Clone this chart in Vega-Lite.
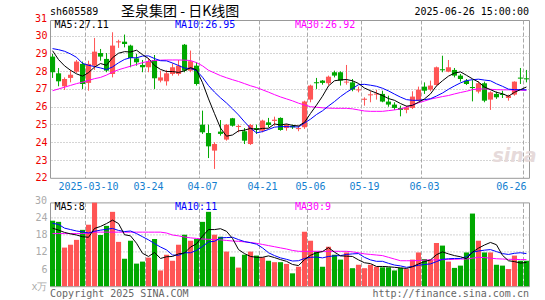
{
  "$schema": "https://vega.github.io/schema/vega-lite/v6.json",
  "autosize": {"type": "pad"},
  "padding": {"left": 30, "top": 4, "right": 0, "bottom": 0},
  "background": "white",
  "config": {
    "view": {"stroke": "#999999", "strokeWidth": 1},
    "text": {"font": "DejaVu Sans Mono", "fontSize": 10},
    "axis": {"labelFont": "DejaVu Sans Mono", "labelFontSize": 10, "title": null}
  },
  "datasets": {
    "k": [
      {"date":"2025-02-28","open":28.82,"high":28.97,"low":27.62,"close":27.94,"ma5":29.15,"ma10":29.27,"ma30":26.9,"vol":22.9,"vma5":20.3,"vma10":22.0,"vma30":18.4},
      {"date":"2025-03-03","open":27.88,"high":28.18,"low":27.15,"close":27.43,"ma5":28.65,"ma10":29.21,"ma30":27.0,"vol":22.5,"vma5":19.6,"vma10":21.6,"vma30":18.4},
      {"date":"2025-03-04","open":27.15,"high":27.65,"low":26.94,"close":27.56,"ma5":28.3,"ma10":29.12,"ma30":27.1,"vol":13.5,"vma5":18.8,"vma10":20.3,"vma30":18.4},
      {"date":"2025-03-05","open":27.62,"high":28.07,"low":27.37,"close":27.80,"ma5":28.05,"ma10":28.97,"ma30":27.2,"vol":14.5,"vma5":18.3,"vma10":19.8,"vma30":18.4},
      {"date":"2025-03-06","open":27.97,"high":28.63,"low":27.90,"close":28.54,"ma5":27.85,"ma10":28.78,"ma30":27.3,"vol":16.2,"vma5":17.9,"vma10":19.3,"vma30":18.4},
      {"date":"2025-03-07","open":28.41,"high":28.54,"low":27.00,"close":27.28,"ma5":27.72,"ma10":28.44,"ma30":27.38,"vol":19.7,"vma5":17.3,"vma10":19.0,"vma30":18.4},
      {"date":"2025-03-10","open":27.34,"high":28.59,"low":26.90,"close":28.41,"ma5":27.92,"ma10":28.33,"ma30":27.48,"vol":21.5,"vma5":17.1,"vma10":18.6,"vma30":18.6},
      {"date":"2025-03-11","open":28.31,"high":29.87,"low":28.07,"close":29.10,"ma5":28.23,"ma10":28.26,"ma30":27.58,"vol":29.2,"vma5":20.2,"vma10":19.2,"vma30":18.9},
      {"date":"2025-03-12","open":29.02,"high":29.25,"low":28.59,"close":28.82,"ma5":28.43,"ma10":28.18,"ma30":27.65,"vol":17.9,"vma5":20.9,"vma10":19.6,"vma30":18.9},
      {"date":"2025-03-13","open":28.69,"high":29.02,"low":27.94,"close":28.03,"ma5":28.33,"ma10":28.09,"ma30":27.78,"vol":21.1,"vma5":21.9,"vma10":19.9,"vma30":18.9},
      {"date":"2025-03-14","open":27.84,"high":30.19,"low":27.65,"close":29.44,"ma5":28.76,"ma10":28.24,"ma30":27.95,"vol":26.0,"vma5":23.1,"vma10":20.2,"vma30":18.9},
      {"date":"2025-03-17","open":29.62,"high":29.77,"low":29.31,"close":29.68,"ma5":29.01,"ma10":28.47,"ma30":28.08,"vol":15.5,"vma5":21.9,"vma10":19.5,"vma30":18.9},
      {"date":"2025-03-18","open":29.66,"high":30.06,"low":29.34,"close":29.53,"ma5":29.10,"ma10":28.66,"ma30":28.18,"vol":9.6,"vma5":18.0,"vma10":19.1,"vma30":18.9},
      {"date":"2025-03-19","open":29.44,"high":29.49,"low":28.22,"close":28.74,"ma5":29.08,"ma10":28.76,"ma30":28.28,"vol":15.9,"vma5":17.6,"vma10":19.3,"vma30":18.9},
      {"date":"2025-03-20","open":28.72,"high":28.97,"low":28.31,"close":28.50,"ma5":29.18,"ma10":28.75,"ma30":28.38,"vol":7.9,"vma5":15.0,"vma10":18.4,"vma30":18.9},
      {"date":"2025-03-21","open":28.35,"high":28.63,"low":27.94,"close":28.22,"ma5":28.93,"ma10":28.85,"ma30":28.48,"vol":8.6,"vma5":11.5,"vma10":17.3,"vma30":18.9},
      {"date":"2025-03-24","open":28.22,"high":28.74,"low":27.94,"close":28.54,"ma5":28.71,"ma10":28.86,"ma30":28.56,"vol":10.0,"vma5":10.4,"vma10":16.2,"vma30":18.9},
      {"date":"2025-03-25","open":28.63,"high":28.91,"low":27.00,"close":27.60,"ma5":28.32,"ma10":28.71,"ma30":28.6,"vol":16.5,"vma5":11.8,"vma10":14.9,"vma30":18.9},
      {"date":"2025-03-26","open":27.47,"high":28.03,"low":27.37,"close":27.65,"ma5":28.10,"ma10":28.59,"ma30":28.62,"vol":5.5,"vma5":9.7,"vma10":13.7,"vma30":18.9},
      {"date":"2025-03-27","open":27.43,"high":28.07,"low":27.19,"close":27.88,"ma5":27.98,"ma10":28.58,"ma30":28.63,"vol":11.0,"vma5":10.3,"vma10":12.7,"vma30":18.6},
      {"date":"2025-03-28","open":27.84,"high":28.44,"low":27.75,"close":28.22,"ma5":27.98,"ma10":28.46,"ma30":28.63,"vol":8.9,"vma5":10.4,"vma10":10.9,"vma30":17.9},
      {"date":"2025-03-31","open":27.84,"high":28.63,"low":27.75,"close":28.31,"ma5":27.93,"ma10":28.32,"ma30":28.63,"vol":14.5,"vma5":11.3,"vma10":10.8,"vma30":17.6},
      {"date":"2025-04-01","open":29.49,"high":29.53,"low":27.94,"close":28.03,"ma5":28.02,"ma10":28.17,"ma30":28.62,"vol":18.0,"vma5":11.6,"vma10":11.7,"vma30":17.2},
      {"date":"2025-04-02","open":28.03,"high":29.16,"low":27.94,"close":28.56,"ma5":28.20,"ma10":28.15,"ma30":28.6,"vol":15.9,"vma5":13.7,"vma10":11.7,"vma30":16.9},
      {"date":"2025-04-03","open":28.31,"high":28.50,"low":27.19,"close":27.28,"ma5":28.08,"ma10":28.03,"ma30":28.48,"vol":16.5,"vma5":14.8,"vma10":12.5,"vma30":16.7},
      {"date":"2025-04-07","open":24.99,"high":25.78,"low":24.47,"close":24.56,"ma5":27.35,"ma10":27.66,"ma30":28.3,"vol":22.5,"vma5":17.5,"vma10":13.9,"vma30":16.5},
      {"date":"2025-04-08","open":24.52,"high":24.99,"low":23.11,"close":23.77,"ma5":26.44,"ma10":27.19,"ma30":28.05,"vol":26.0,"vma5":19.8,"vma10":15.5,"vma30":16.4},
      {"date":"2025-04-09","open":23.53,"high":24.00,"low":22.50,"close":23.90,"ma5":25.61,"ma10":26.82,"ma30":27.9,"vol":18.0,"vma5":19.8,"vma10":15.7,"vma30":16.3},
      {"date":"2025-04-10","open":24.60,"high":25.25,"low":24.37,"close":24.47,"ma5":24.80,"ma10":26.50,"ma30":27.75,"vol":17.3,"vma5":20.1,"vma10":16.9,"vma30":16.2},
      {"date":"2025-04-11","open":24.15,"high":25.03,"low":24.09,"close":24.99,"ma5":24.34,"ma10":26.21,"ma30":27.63,"vol":12.1,"vma5":19.2,"vma10":17.0,"vma30":16.0},
      {"date":"2025-04-14","open":25.35,"high":25.37,"low":24.88,"close":24.93,"ma5":24.41,"ma10":25.88,"ma30":27.52,"vol":10.3,"vma5":16.7,"vma10":17.1,"vma30":15.8},
      {"date":"2025-04-15","open":24.86,"high":24.99,"low":24.56,"close":24.92,"ma5":24.64,"ma10":25.54,"ma30":27.42,"vol":6.5,"vma5":12.8,"vma10":16.3,"vma30":15.7},
      {"date":"2025-04-16","open":24.62,"high":24.80,"low":23.90,"close":24.09,"ma5":24.68,"ma10":25.15,"ma30":27.3,"vol":11.0,"vma5":11.4,"vma10":15.6,"vma30":15.5},
      {"date":"2025-04-17","open":23.90,"high":25.03,"low":23.85,"close":24.97,"ma5":24.78,"ma10":24.79,"ma30":27.18,"vol":12.1,"vma5":10.4,"vma10":15.2,"vma30":15.3},
      {"date":"2025-04-18","open":24.80,"high":24.99,"low":24.47,"close":24.71,"ma5":24.72,"ma10":24.53,"ma30":27.08,"vol":10.7,"vma5":10.1,"vma10":14.7,"vma30":15.0},
      {"date":"2025-04-21","open":24.65,"high":25.27,"low":24.56,"close":25.22,"ma5":24.78,"ma10":24.60,"ma30":26.95,"vol":10.1,"vma5":10.1,"vma10":13.4,"vma30":14.6},
      {"date":"2025-04-22","open":25.12,"high":25.37,"low":24.84,"close":24.97,"ma5":24.79,"ma10":24.72,"ma30":26.82,"vol":8.9,"vma5":10.6,"vma10":11.7,"vma30":14.2},
      {"date":"2025-04-23","open":25.20,"high":25.44,"low":24.93,"close":25.27,"ma5":25.03,"ma10":24.85,"ma30":26.68,"vol":8.4,"vma5":10.0,"vma10":10.7,"vma30":13.8},
      {"date":"2025-04-24","open":25.37,"high":25.40,"low":24.65,"close":24.69,"ma5":24.97,"ma10":24.88,"ma30":26.55,"vol":8.4,"vma5":9.3,"vma10":9.9,"vma30":13.4},
      {"date":"2025-04-25","open":24.80,"high":25.03,"low":24.65,"close":24.99,"ma5":25.03,"ma10":24.88,"ma30":26.44,"vol":7.8,"vma5":8.7,"vma10":9.4,"vma30":13.0},
      {"date":"2025-04-28","open":24.92,"high":24.99,"low":24.75,"close":24.84,"ma5":24.95,"ma10":24.87,"ma30":26.33,"vol":4.5,"vma5":7.6,"vma10":8.8,"vma30":12.5},
      {"date":"2025-04-29","open":24.74,"high":24.93,"low":24.62,"close":24.80,"ma5":24.92,"ma10":24.86,"ma30":26.2,"vol":6.8,"vma5":7.2,"vma10":8.9,"vma30":12.2},
      {"date":"2025-04-30","open":24.84,"high":26.34,"low":24.75,"close":26.29,"ma5":25.12,"ma10":25.08,"ma30":26.1,"vol":19.0,"vma5":9.3,"vma10":9.7,"vma30":12.2},
      {"date":"2025-05-06","open":26.40,"high":27.24,"low":26.25,"close":27.19,"ma5":25.62,"ma10":25.30,"ma30":26.0,"vol":15.9,"vma5":10.8,"vma10":10.1,"vma30":12.2},
      {"date":"2025-05-07","open":27.38,"high":27.62,"low":27.00,"close":27.32,"ma5":26.09,"ma10":25.56,"ma30":25.97,"vol":12.1,"vma5":11.7,"vma10":10.2,"vma30":12.2},
      {"date":"2025-05-08","open":27.47,"high":27.50,"low":27.24,"close":27.34,"ma5":26.59,"ma10":25.77,"ma30":25.94,"vol":6.8,"vma5":12.1,"vma10":9.9,"vma30":12.2},
      {"date":"2025-05-09","open":27.32,"high":27.75,"low":27.19,"close":27.69,"ma5":27.17,"ma10":26.04,"ma30":25.92,"vol":13.8,"vma5":13.5,"vma10":10.4,"vma30":12.2},
      {"date":"2025-05-12","open":27.94,"high":28.03,"low":27.65,"close":27.75,"ma5":27.46,"ma10":26.29,"ma30":25.91,"vol":11.0,"vma5":11.9,"vma10":10.6,"vma30":12.2},
      {"date":"2025-05-13","open":27.94,"high":27.99,"low":27.19,"close":27.47,"ma5":27.51,"ma10":26.57,"ma30":25.91,"vol":9.3,"vma5":10.6,"vma10":10.7,"vma30":12.2},
      {"date":"2025-05-14","open":27.36,"high":28.35,"low":27.24,"close":27.41,"ma5":27.53,"ma10":26.81,"ma30":25.91,"vol":11.8,"vma5":10.5,"vma10":11.1,"vma30":12.2},
      {"date":"2025-05-15","open":27.37,"high":27.56,"low":26.87,"close":26.96,"ma5":27.46,"ma10":27.02,"ma30":25.88,"vol":6.3,"vma5":10.4,"vma10":11.3,"vma30":12.0},
      {"date":"2025-05-16","open":26.92,"high":27.13,"low":26.81,"close":26.98,"ma5":27.31,"ma10":27.24,"ma30":25.82,"vol":7.5,"vma5":9.2,"vma10":11.4,"vma30":11.7},
      {"date":"2025-05-19","open":26.39,"high":26.53,"low":26.06,"close":26.45,"ma5":27.05,"ma10":27.26,"ma30":25.76,"vol":6.3,"vma5":8.2,"vma10":10.1,"vma30":11.3},
      {"date":"2025-05-20","open":26.64,"high":26.87,"low":26.25,"close":26.70,"ma5":26.90,"ma10":27.21,"ma30":25.74,"vol":7.5,"vma5":7.9,"vma10":9.2,"vma30":11.1},
      {"date":"2025-05-21","open":26.68,"high":26.94,"low":26.40,"close":26.74,"ma5":26.77,"ma10":27.15,"ma30":25.74,"vol":6.8,"vma5":6.9,"vma10":8.7,"vma30":10.9},
      {"date":"2025-05-22","open":26.72,"high":26.90,"low":26.25,"close":26.29,"ma5":26.63,"ma10":27.04,"ma30":25.74,"vol":6.6,"vma5":6.9,"vma10":8.7,"vma30":10.7},
      {"date":"2025-05-23","open":26.29,"high":26.62,"low":26.00,"close":26.12,"ma5":26.46,"ma10":26.89,"ma30":25.78,"vol":6.6,"vma5":6.8,"vma10":8.0,"vma30":10.1},
      {"date":"2025-05-26","open":26.12,"high":26.25,"low":25.82,"close":25.93,"ma5":26.36,"ma10":26.71,"ma30":25.82,"vol":5.5,"vma5":6.6,"vma10":7.4,"vma30":9.5},
      {"date":"2025-05-27","open":25.93,"high":26.06,"low":25.46,"close":25.82,"ma5":26.18,"ma10":26.54,"ma30":25.87,"vol":6.4,"vma5":6.4,"vma10":7.1,"vma30":8.9},
      {"date":"2025-05-28","open":25.82,"high":26.06,"low":25.63,"close":25.97,"ma5":26.03,"ma10":26.40,"ma30":25.97,"vol":6.0,"vma5":6.2,"vma10":6.6,"vma30":8.9},
      {"date":"2025-05-29","open":25.93,"high":26.87,"low":25.87,"close":26.57,"ma5":26.08,"ma10":26.36,"ma30":26.1,"vol":9.3,"vma5":6.8,"vma10":6.9,"vma30":8.9},
      {"date":"2025-05-30","open":26.34,"high":27.13,"low":26.30,"close":26.96,"ma5":26.25,"ma10":26.36,"ma30":26.22,"vol":11.8,"vma5":7.8,"vma10":7.3,"vma30":9.0},
      {"date":"2025-06-03","open":27.13,"high":27.37,"low":26.72,"close":26.90,"ma5":26.44,"ma10":26.40,"ma30":26.32,"vol":9.5,"vma5":8.6,"vma10":7.6,"vma30":9.1},
      {"date":"2025-06-04","open":26.96,"high":27.47,"low":26.87,"close":27.19,"ma5":26.72,"ma10":26.45,"ma30":26.43,"vol":9.2,"vma5":9.2,"vma10":7.8,"vma30":9.2},
      {"date":"2025-06-05","open":27.22,"high":28.26,"low":27.17,"close":28.22,"ma5":27.17,"ma10":26.60,"ma30":26.5,"vol":15.1,"vma5":11.0,"vma10":8.6,"vma30":9.2},
      {"date":"2025-06-06","open":28.11,"high":28.87,"low":27.94,"close":28.05,"ma5":27.46,"ma10":26.77,"ma30":26.57,"vol":14.2,"vma5":12.0,"vma10":9.4,"vma30":9.3},
      {"date":"2025-06-09","open":27.97,"high":28.63,"low":27.94,"close":28.22,"ma5":27.72,"ma10":26.98,"ma30":26.63,"vol":8.6,"vma5":11.3,"vma10":9.6,"vma30":9.3},
      {"date":"2025-06-10","open":28.07,"high":28.18,"low":27.65,"close":27.75,"ma5":27.89,"ma10":27.17,"ma30":26.72,"vol":6.4,"vma5":10.7,"vma10":9.7,"vma30":9.4},
      {"date":"2025-06-11","open":27.75,"high":27.84,"low":27.41,"close":27.56,"ma5":27.96,"ma10":27.34,"ma30":26.8,"vol":7.2,"vma5":10.3,"vma10":9.7,"vma30":9.5},
      {"date":"2025-06-12","open":27.47,"high":27.56,"low":27.22,"close":27.28,"ma5":27.77,"ma10":27.47,"ma30":26.87,"vol":11.8,"vma5":9.6,"vma10":10.3,"vma30":9.5},
      {"date":"2025-06-13","open":27.11,"high":27.50,"low":26.30,"close":27.05,"ma5":27.57,"ma10":27.52,"ma30":26.96,"vol":25.4,"vma5":11.9,"vma10":11.9,"vma30":9.8},
      {"date":"2025-06-16","open":26.85,"high":27.43,"low":26.75,"close":27.32,"ma5":27.39,"ma10":27.55,"ma30":27.0,"vol":15.9,"vma5":13.3,"vma10":12.3,"vma30":10.1},
      {"date":"2025-06-17","open":27.32,"high":27.41,"low":26.25,"close":26.34,"ma5":27.11,"ma10":27.50,"ma30":27.0,"vol":11.8,"vma5":14.4,"vma10":12.6,"vma30":10.0},
      {"date":"2025-06-18","open":26.40,"high":26.87,"low":25.82,"close":26.81,"ma5":26.96,"ma10":27.46,"ma30":26.98,"vol":11.8,"vma5":15.3,"vma10":12.8,"vma30":9.8},
      {"date":"2025-06-19","open":26.72,"high":26.85,"low":26.44,"close":26.53,"ma5":26.81,"ma10":27.29,"ma30":26.96,"vol":7.5,"vma5":14.5,"vma10":12.1,"vma30":9.6},
      {"date":"2025-06-20","open":26.72,"high":26.90,"low":26.49,"close":26.66,"ma5":26.73,"ma10":27.15,"ma30":26.95,"vol":7.2,"vma5":10.8,"vma10":11.4,"vma30":9.5},
      {"date":"2025-06-23","open":26.49,"high":26.68,"low":26.34,"close":26.62,"ma5":26.59,"ma10":26.99,"ma30":26.95,"vol":6.0,"vma5":8.9,"vma10":11.1,"vma30":9.4},
      {"date":"2025-06-24","open":26.68,"high":27.43,"low":26.62,"close":27.41,"ma5":26.81,"ma10":26.96,"ma30":26.94,"vol":10.7,"vma5":8.6,"vma10":11.5,"vma30":9.4},
      {"date":"2025-06-25","open":27.64,"high":28.18,"low":27.28,"close":27.58,"ma5":26.96,"ma10":26.96,"ma30":26.93,"vol":8.9,"vma5":8.1,"vma10":11.7,"vma30":9.3},
      {"date":"2025-06-26","open":27.60,"high":28.07,"low":27.37,"close":27.54,"ma5":27.11,"ma10":26.95,"ma30":26.92,"vol":8.9,"vma5":8.3,"vma10":11.4,"vma30":9.3}
    ]
  },
  "spacing": 24.4,
  "bounds": "flush",
  "vconcat": [
    {
      "width": 479,
      "height": 157.8,
      "data": {"name": "k"},
      "encoding": {
        "x": {
          "field": "date", "type": "ordinal",
          "scale": {"paddingInner": 0.15, "paddingOuter": 0},
          "axis": {
            "values": ["2025-03-10","2025-03-24","2025-04-07","2025-04-21","2025-05-06","2025-05-19","2025-06-03","2025-06-26"],
            "bandPosition": 0, "grid": true, "gridColor": "#aaaaaa", "gridDash": [4, 2], "gridWidth": 1,
            "ticks": false, "domain": false, "labelAngle": 0, "labelColor": "#1480d0",
            "labelPadding": 4, "labelFlush": 8,
            "labelExpr": "datum.value == '2025-03-10' ? datum.label : substring(datum.label, 5)"
          }
        }
      },
      "layer": [
        {
          "data": {"values": [{}]},
          "mark": {"type": "text", "align": "left", "baseline": "middle", "font": "DejaVu Sans", "fontStyle": "italic", "fontWeight": "bold", "fontSize": 19, "color": "#e6dada", "dx": -34},
          "encoding": {"x": {"datum": "2025-06-26", "type": "ordinal"}, "y": {"datum": 23.2, "type": "quantitative", "axis": null}, "text": {"value": "sina"}}
        },
        {
          "mark": {"type": "rule", "strokeWidth": 1},
          "encoding": {
            "y": {"field": "low", "type": "quantitative",
                  "scale": {"domain": [22, 30.88], "nice": false, "zero": false},
                  "axis": {"orient": "left", "values": [22,23,24,25,26,27,28,29,30], "grid": false, "ticks": false, "domain": false, "labelColor": "#ee0000", "labelPadding": 3}},
            "y2": {"field": "high"},
            "color": {"condition": {"test": "datum.close >= datum.open", "value": "#ff5555"}, "value": "#00a800"}
          }
        },
        {
          "mark": {"type": "bar"},
          "encoding": {
            "y": {"field": "open", "type": "quantitative",
                  "axis": {"orient": "right", "values": [23,24,25,26,27,28,29,30], "grid": true, "gridColor": "#aaaaaa", "gridDash": [1, 2], "labels": false, "ticks": false, "domain": false}},
            "y2": {"field": "close"},
            "color": {"condition": {"test": "datum.close >= datum.open", "value": "#ff5555"}, "value": "#00a800"}
          }
        },
        {
          "mark": {"type": "line", "strokeWidth": 1, "color": "#ff00ff"},
          "encoding": {"y": {"field": "ma30", "type": "quantitative", "axis": null}}
        },
        {
          "mark": {"type": "line", "strokeWidth": 1, "color": "#0000ff"},
          "encoding": {"y": {"field": "ma10", "type": "quantitative", "axis": null}}
        },
        {
          "mark": {"type": "line", "strokeWidth": 1, "color": "#000000"},
          "encoding": {"y": {"field": "ma5", "type": "quantitative", "axis": null}}
        },
        {
          "data": {"values": [{}]},
          "mark": {"type": "text", "align": "right", "baseline": "middle", "dx": -5.5, "dy": 1.5, "color": "#ee0000"},
          "encoding": {"x": {"datum": "2025-02-28", "type": "ordinal"}, "y": {"datum": 31, "type": "quantitative", "axis": null}, "text": {"value": "31"}}
        },
        {
          "data": {"values": [{}]},
          "mark": {"type": "text", "align": "left", "baseline": "top", "dx": 2, "color": "#000000"},
          "encoding": {"x": {"datum": "2025-02-28", "type": "ordinal"}, "y": {"datum": 30.88, "type": "quantitative", "axis": null}, "text": {"value": "MA5:27.11"}}
        },
        {
          "data": {"values": [{}]},
          "mark": {"type": "text", "align": "left", "baseline": "top", "dx": 2.5, "color": "#0000ff"},
          "encoding": {"x": {"datum": "2025-03-28", "type": "ordinal"}, "y": {"datum": 30.88, "type": "quantitative", "axis": null}, "text": {"value": "MA10:26.95"}}
        },
        {
          "data": {"values": [{}]},
          "mark": {"type": "text", "align": "left", "baseline": "top", "dx": 2.5, "color": "#ff00ff"},
          "encoding": {"x": {"datum": "2025-04-28", "type": "ordinal"}, "y": {"datum": 30.88, "type": "quantitative", "axis": null}, "text": {"value": "MA30:26.92"}}
        },
        {
          "data": {"values": [{}]},
          "mark": {"type": "text", "align": "left", "baseline": "middle", "dx": -2.5, "color": "#000000"},
          "encoding": {"x": {"datum": "2025-02-28", "type": "ordinal"}, "y": {"datum": 31.35, "type": "quantitative", "axis": null}, "text": {"value": "sh605589"}}
        },
        {
          "data": {"values": [{}]},
          "mark": {"type": "text", "align": "left", "baseline": "middle", "dx": 2.5, "font": "Noto Sans CJK SC", "fontSize": 14, "color": "#000000"},
          "encoding": {"x": {"datum": "2025-03-17", "type": "ordinal"}, "y": {"datum": 31.35, "type": "quantitative", "axis": null}, "text": {"value": "圣泉集团 - 日K线图"}}
        },
        {
          "data": {"values": [{}]},
          "mark": {"type": "text", "align": "right", "baseline": "middle", "dx": 2.5, "color": "#000000"},
          "encoding": {"x": {"datum": "2025-06-26", "type": "ordinal"}, "y": {"datum": 31.35, "type": "quantitative", "axis": null}, "text": {"value": "2025-06-26 15:00:00"}}
        }
      ],
      "resolve": {"axis": {"y": "independent"}}
    },
    {
      "width": 479,
      "height": 83.8,
      "data": {"name": "k"},
      "encoding": {
        "x": {
          "field": "date", "type": "ordinal",
          "scale": {"paddingInner": 0.15, "paddingOuter": 0},
          "axis": {
            "values": ["2025-03-10","2025-03-24","2025-04-07","2025-04-21","2025-05-06","2025-05-19","2025-06-03","2025-06-26"],
            "bandPosition": 0, "grid": true, "gridColor": "#aaaaaa", "gridDash": [4, 2], "gridWidth": 1,
            "ticks": false, "domain": false, "labels": false
          }
        }
      },
      "layer": [
        {
          "mark": {"type": "bar"},
          "encoding": {
            "y": {"field": "vol", "type": "quantitative",
                  "scale": {"domain": [0, 29.3], "nice": false},
                  "axis": {"orient": "left", "values": [0,6,12,18,24], "grid": false, "ticks": false, "domain": false, "labelColor": "#aaaaaa", "labelPadding": 3,
                           "labelExpr": "datum.value == 0 ? 'x万' : datum.label"}},
            "color": {"condition": {"test": "datum.close >= datum.open", "value": "#ff5555"}, "value": "#00a800"}
          }
        },
        {
          "mark": {"type": "line", "strokeWidth": 1, "color": "#ff00ff"},
          "encoding": {"y": {"field": "vma30", "type": "quantitative",
                  "axis": {"orient": "right", "values": [6,12,18,24], "grid": true, "gridColor": "#aaaaaa", "gridDash": [1, 2], "labels": false, "ticks": false, "domain": false}}}
        },
        {
          "mark": {"type": "line", "strokeWidth": 1, "color": "#0000ff"},
          "encoding": {"y": {"field": "vma10", "type": "quantitative", "axis": null}}
        },
        {
          "mark": {"type": "line", "strokeWidth": 1, "color": "#000000"},
          "encoding": {"y": {"field": "vma5", "type": "quantitative", "axis": null}}
        },
        {
          "data": {"values": [{}]},
          "mark": {"type": "text", "align": "right", "baseline": "middle", "dx": -5.5, "dy": 1, "color": "#aaaaaa"},
          "encoding": {"x": {"datum": "2025-02-28", "type": "ordinal"}, "y": {"datum": 30, "type": "quantitative", "axis": null}, "text": {"value": "30"}}
        },
        {
          "data": {"values": [{}]},
          "mark": {"type": "text", "align": "left", "baseline": "top", "dx": 2, "color": "#000000"},
          "encoding": {"x": {"datum": "2025-02-28", "type": "ordinal"}, "y": {"datum": 29.3, "type": "quantitative", "axis": null}, "text": {"value": "MA5:8"}}
        },
        {
          "data": {"values": [{}]},
          "mark": {"type": "text", "align": "left", "baseline": "top", "dx": 2.5, "color": "#0000ff"},
          "encoding": {"x": {"datum": "2025-03-28", "type": "ordinal"}, "y": {"datum": 29.3, "type": "quantitative", "axis": null}, "text": {"value": "MA10:11"}}
        },
        {
          "data": {"values": [{}]},
          "mark": {"type": "text", "align": "left", "baseline": "top", "dx": 2.5, "color": "#ff00ff"},
          "encoding": {"x": {"datum": "2025-04-28", "type": "ordinal"}, "y": {"datum": 29.3, "type": "quantitative", "axis": null}, "text": {"value": "MA30:9"}}
        },
        {
          "data": {"values": [{}]},
          "mark": {"type": "text", "align": "left", "baseline": "middle", "dx": -2.5, "color": "#666666"},
          "encoding": {"x": {"datum": "2025-02-28", "type": "ordinal"}, "y": {"datum": -2.8, "type": "quantitative", "axis": null}, "text": {"value": "Copyright 2025 SINA.COM"}}
        },
        {
          "data": {"values": [{}]},
          "mark": {"type": "text", "align": "right", "baseline": "middle", "dx": 2.5, "color": "#666666"},
          "encoding": {"x": {"datum": "2025-06-26", "type": "ordinal"}, "y": {"datum": -2.8, "type": "quantitative", "axis": null}, "text": {"value": "http://finance.sina.com.cn"}}
        }
      ],
      "resolve": {"axis": {"y": "independent"}}
    }
  ]
}
